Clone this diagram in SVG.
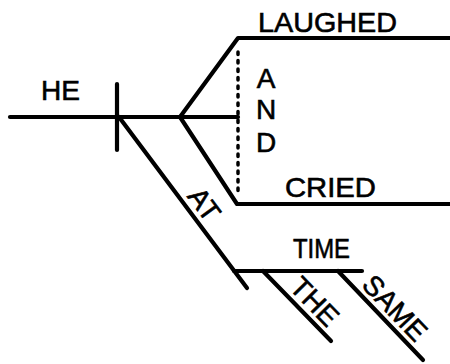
<svg xmlns="http://www.w3.org/2000/svg" width="450" height="364" viewBox="0 0 450 364">
<style>
.ln{fill:none;stroke:#000;stroke-width:4.2;stroke-linecap:round;stroke-linejoin:round}
.dot{fill:none;stroke:#000;stroke-width:3.5;stroke-linecap:round;stroke-dasharray:2.5 6}
.t{font-family:"Liberation Sans",Arial,sans-serif;fill:#000;stroke:#000;stroke-width:0.6;font-size:28px}
</style>
<rect width="450" height="364" fill="#fff"/>
<g id="connectors">
<path class="ln" d="M10 117 H238"/>
<path class="ln" d="M117 84 V150"/>
<path class="ln" d="M180 117 L238 38 H450"/>
<path class="ln" d="M180 117 L237 204 H450"/>
<path class="dot" d="M238 52 V196"/>
<path class="ln" d="M119 117 L247 288"/>
<path class="ln" d="M234 271 H362"/>
<path class="ln" d="M263 271 L331 341"/>
<path class="ln" d="M338 271 L423 360"/>
</g>
<g id="he"><text class="t" x="41" y="100" font-size="29" textLength="39" lengthAdjust="spacingAndGlyphs">HE</text></g>
<g id="laughed"><text class="t" x="258" y="32" textLength="139" lengthAdjust="spacingAndGlyphs">LAUGHED</text></g>
<g id="and">
<text class="t" x="266" y="88" font-size="26" text-anchor="middle">A</text>
<text class="t" x="266" y="119" font-size="26" text-anchor="middle">N</text>
<text class="t" x="266" y="152" font-size="26" text-anchor="middle">D</text>
</g>
<g id="cried"><text class="t" x="285" y="197" textLength="91" lengthAdjust="spacingAndGlyphs">CRIED</text></g>
<g id="at"><text class="t" transform="translate(119 117) rotate(53.5)" x="121" y="-7" font-size="27" text-anchor="middle">AT</text></g>
<g id="time"><text class="t" x="293" y="258" textLength="57" lengthAdjust="spacingAndGlyphs">TIME</text></g>
<g id="the"><text class="t" transform="translate(263 271) rotate(45.8)" x="58" y="-6" font-size="26" text-anchor="middle">THE</text></g>
<g id="same"><text class="t" transform="translate(338 271) rotate(46.3)" x="66" y="-6" font-size="27" text-anchor="middle">SAME</text></g>
</svg>
